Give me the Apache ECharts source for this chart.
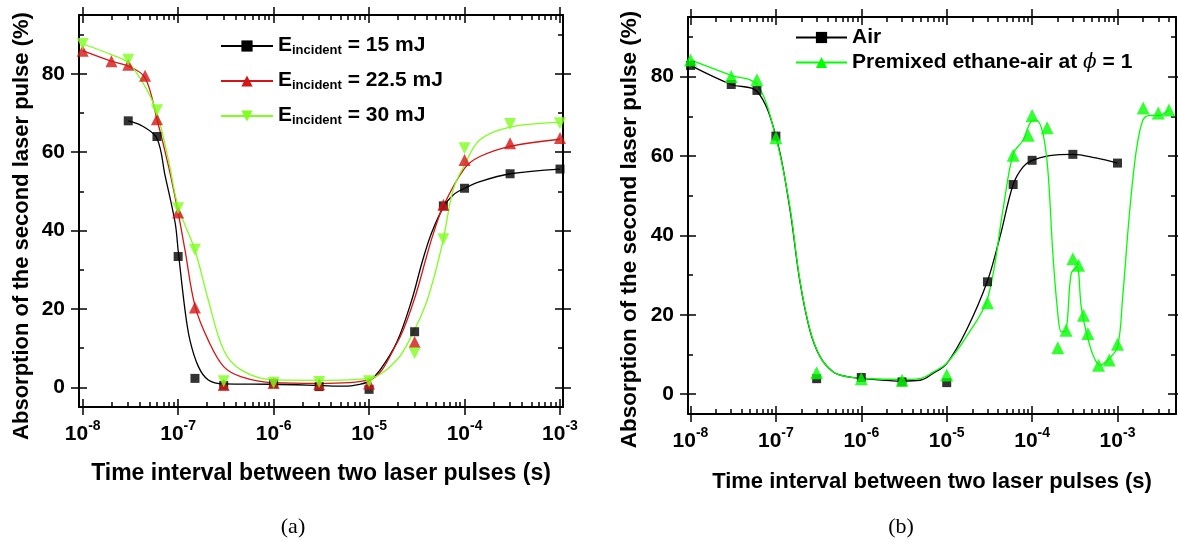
<!DOCTYPE html>
<html><head><meta charset="utf-8">
<script src="https://cdn.jsdelivr.net/npm/echarts@6/dist/echarts.min.js"></script>
<style>html,body{margin:0;padding:0;background:#fff}#c{width:1178px;height:542px}</style>
</head><body><div id="c"></div>
<script>
// ---------- Panel (a) markers ----------
const t15 = [3e-8, 6e-8, 1e-7, 1.5e-7, 3e-7, 1e-6, 3e-6, 1e-5, 3e-5, 6e-5, 1e-4, 3e-4, 1e-3];
const v15 = [68, 64, 33.4, 2.3, 0.5, 1.0, 0.2, -0.5, 14.2, 46.3, 50.8, 54.5, 55.7];
const t225 = [1e-8, 2e-8, 3e-8, 4.5e-8, 6e-8, 1e-7, 1.5e-7, 3e-7, 1e-6, 3e-6, 1e-5, 3e-5, 6e-5, 1e-4, 3e-4, 1e-3];
const v225 = [85.9, 83.2, 82.3, 79.5, 68.4, 44.6, 20.4, 0.6, 1.1, 0.8, 1.0, 11.6, 46.6, 58, 62.3, 63.6];
const t30 = [1e-8, 3e-8, 6e-8, 1e-7, 1.5e-7, 3e-7, 1e-6, 3e-6, 1e-5, 3e-5, 6e-5, 1e-4, 3e-4, 1e-3];
const v30 = [87.6, 83.6, 70.7, 45.7, 35.1, 1.6, 1.2, 1.4, 1.6, 8.7, 37.8, 61, 67.2, 67.4];
// ---------- Panel (a) fitted curves ----------
const c15T = [3e-8, 4.2e-8, 6e-8, 7.3e-8, 9.3e-8, 1e-7, 1.18e-7, 1.33e-7, 1.63e-7, 2.07e-7, 3e-7, 1e-6, 3e-6, 5.5e-6, 8e-6, 1e-5, 1.3e-5, 1.95e-5, 2.8e-5, 3.6e-5, 4.5e-5, 6e-5, 7.6e-5, 1e-4, 1.45e-4, 3e-4, 1e-3];
const c15V = [68, 66.7, 63.5, 54, 42, 35, 19.7, 12, 5.3, 1.9, 0.9, 0.8, 0.5, 0.3, 0.8, 1.6, 4.4, 11.5, 22.3, 32, 39.3, 46, 49.1, 50.8, 52.5, 54.5, 55.7];
const c225T = [1e-8, 2e-8, 3e-8, 4.5e-8, 6e-8, 8e-8, 1e-7, 1.18e-7, 1.5e-7, 2.07e-7, 3e-7, 4.6e-7, 1e-6, 3e-6, 1e-5, 1.95e-5, 2.96e-5, 4e-5, 4.72e-5, 6e-5, 1e-4, 1.45e-4, 3e-4, 1e-3];
const c225V = [85.9, 83.2, 82, 79, 68.4, 56, 44.6, 35, 20.8, 12, 5.3, 2.7, 1.2, 1.0, 1.9, 11.2, 22.3, 33.4, 39.3, 46.3, 55.9, 58.9, 61.5, 63.3];
const c30T = [1e-8, 2e-8, 3e-8, 4.5e-8, 6e-8, 8e-8, 1e-7, 1.5e-7, 2.07e-7, 3e-7, 4.6e-7, 1e-6, 3e-6, 1e-5, 1.95e-5, 2.9e-5, 3.9e-5, 4.9e-5, 6e-5, 7.6e-5, 1e-4, 1.45e-4, 3e-4, 1e-3];
const c30V = [87.6, 84.9, 82.8, 76.8, 70, 57.5, 46.1, 35, 22.3, 9.5, 4.4, 1.9, 1.8, 2.3, 7, 14, 21, 29, 37.8, 50.4, 56.8, 63.2, 66.4, 67.6];
// ---------- Panel (b) markers ----------
const tAir = [1e-8, 3e-8, 6e-8, 1e-7, 3e-7, 1e-6, 3e-6, 1e-5, 3e-5, 6e-5, 1e-4, 3e-4, 1e-3];
const vAir = [82.8, 78, 76.5, 65, 3.9, 4.2, 3.1, 2.9, 28.3, 52.8, 58.9, 60.4, 58.2];
const tEth = [1e-8, 3e-8, 6e-8, 1e-7, 3e-7, 1e-6, 3e-6, 1e-5, 3e-5, 6e-5, 9e-5, 1e-4, 1.5e-4, 2e-4, 2.5e-4, 3e-4, 3.5e-4, 4e-4, 4.5e-4, 6e-4, 8e-4, 1e-3, 2e-3, 3e-3, 4e-3];
const vEth = [84.2, 80, 79.2, 64.6, 5.4, 3.9, 3.5, 4.8, 23, 60.2, 65.2, 70.2, 67.1, 11.7, 16.1, 34.1, 32.5, 19.9, 15.3, 7.3, 8.6, 12.6, 72.1, 70.8, 71.6];
// ---------- Panel (b) fitted curves ----------
const cAirT = [1e-8, 3e-8, 6e-8, 1e-7, 1.45e-7, 1.9e-7, 2.5e-7, 3.3e-7, 4.7e-7, 6.8e-7, 1e-6, 3e-6, 4.9e-6, 6.9e-6, 1e-5, 1.7e-5, 3e-5, 4.2e-5, 6e-5, 7.8e-5, 1e-4, 1.6e-4, 3e-4, 5.6e-4, 1e-3];
const cAirV = [82.8, 78, 76.3, 65, 47, 28.7, 16.1, 9.4, 5.6, 4.4, 4.0, 3.3, 3.5, 5.2, 7.7, 16.1, 28.5, 39.6, 52.8, 57.2, 58.9, 60.1, 60.4, 59.5, 58.2];
const cEthT = [1e-8, 3e-8, 6e-8, 1e-7, 1.45e-7, 1.9e-7, 2.5e-7, 3.3e-7, 4.7e-7, 6.8e-7, 1e-6, 3e-6, 5e-6, 7e-6, 1e-5, 1.7e-5, 3e-5, 4.6e-5, 6e-5, 7.8e-5, 1e-4, 1.12e-4, 1.34e-4, 1.53e-4, 1.75e-4, 2e-4, 2.2e-4, 2.5e-4, 2.87e-4, 3.34e-4, 3.76e-4, 4.3e-4, 5.1e-4, 6.2e-4, 7.7e-4, 1e-3, 1.15e-3, 1.38e-3, 1.66e-3, 1.98e-3, 2.37e-3, 3e-3, 4e-3];
const cEthV = [84.2, 80.3, 78, 64.6, 47.5, 29, 16.3, 9.4, 5.6, 4.4, 4.0, 3.7, 4.0, 5.6, 7.8, 14.5, 24, 47, 60.5, 63.9, 68.9, 69, 65.6, 56.4, 35.4, 20.3, 15.7, 16.1, 30.4, 32, 22, 15.7, 10.2, 7.3, 8.6, 11.9, 24.5, 45.5, 61.4, 69, 70.2, 70.2, 71.6];
// ---------- ticks ----------
const decadeTicks = [1e-8, 1e-7, 1e-6, 1e-5, 1e-4, 1e-3];
const minorMult = [2, 3, 4, 5, 6, 7, 8, 9];
const minorDecadesA = [1e-8, 1e-7, 1e-6, 1e-5, 1e-4];
const minorDecadesB = [1e-8, 1e-7, 1e-6, 1e-5, 1e-4, 1e-3];
const yLabelTicks = [0, 20, 40, 60, 80];
const yMinorTicks = [10, 30, 50, 70, 90];

const legendA = ['E_incident = 15 mJ', 'E_incident = 22.5 mJ', 'E_incident = 30 mJ'];
const legendB = ['Air', 'Premixed ethane-air at \u03d5 = 1'];

function minorsFor(decs, maxV) {
  const out = [];
  decs.forEach(d => minorMult.forEach(m => { const v = m * d; if (v <= maxV) out.push(v); }));
  return out;
}
const zip = (a, b) => a.map((x, i) => [x, b[i]]);

const FONT = 'Liberation Sans';
const black = '#000';
const xLabelFmt = v => '{b|10}{s|' + Math.round(Math.log10(v)) + '}';
const xRich = {
  b: { fontSize: 21, fontWeight: 'bold', fontFamily: FONT, color: black, lineHeight: 26, verticalAlign: 'bottom' },
  s: { fontSize: 14, fontWeight: 'bold', fontFamily: FONT, color: black, lineHeight: 14, padding: [0, 0, 12, 0], verticalAlign: 'top' }
};
const tickLS = { color: black, width: 1.5 };

function xAxes(gi, min, max, minors, titleName, titleSize, titleGap) {
  const base = { type: 'log', logBase: 10, gridIndex: gi, min, max, splitLine: { show: false } };
  return [
    Object.assign({}, base, { position: 'bottom',
      name: titleName, nameLocation: 'middle', nameGap: titleGap,
      nameTextStyle: { fontSize: titleSize, fontWeight: 'bold', fontFamily: FONT, color: black },
      axisLine: { show: true, onZero: false, lineStyle: { color: black, width: 2 } },
      axisTick: { show: true, inside: true, length: 5, customValues: minors, lineStyle: tickLS },
      axisLabel: { show: true, customValues: decadeTicks, formatter: xLabelFmt, rich: xRich, margin: 12 } }),
    Object.assign({}, base, { position: 'bottom', offset: -8,
      axisLine: { show: false, onZero: false },
      axisTick: { show: true, inside: false, length: 16, customValues: decadeTicks, lineStyle: tickLS },
      axisLabel: { show: false } }),
    Object.assign({}, base, { position: 'top',
      axisLine: { show: true, onZero: false, lineStyle: { color: black, width: 2 } },
      axisTick: { show: true, inside: true, length: 5, customValues: minors, lineStyle: tickLS },
      axisLabel: { show: false } }),
    Object.assign({}, base, { position: 'top', offset: -8,
      axisLine: { show: false, onZero: false },
      axisTick: { show: true, inside: false, length: 16, customValues: decadeTicks, lineStyle: tickLS },
      axisLabel: { show: false } })
  ];
}
function yAxes(gi, nameGap, nameSize, shift) {
  const base = { type: 'value', gridIndex: gi, min: -5, max: 95, splitLine: { show: false } };
  return [
    Object.assign({}, base, { position: 'left',
      name: 'Absorption of the second laser pulse (%)', nameLocation: 'middle', nameGap: nameGap,
      nameTextStyle: { fontSize: nameSize, fontWeight: 'bold', fontFamily: FONT, color: black, padding: [0, shift, 0, 0] },
      axisLine: { show: true, onZero: false, lineStyle: { color: black, width: 2 } },
      axisTick: { show: true, inside: true, length: 5, customValues: yMinorTicks, lineStyle: tickLS },
      axisLabel: { show: true, customValues: yLabelTicks, fontSize: 21, fontWeight: 'bold', fontFamily: FONT, color: black, margin: 14 } }),
    Object.assign({}, base, { position: 'left', offset: -8,
      axisLine: { show: false, onZero: false },
      axisTick: { show: true, inside: false, length: 16, customValues: yLabelTicks, lineStyle: tickLS },
      axisLabel: { show: false } }),
    Object.assign({}, base, { position: 'right',
      axisLine: { show: true, onZero: false, lineStyle: { color: black, width: 2 } },
      axisTick: { show: true, inside: true, length: 5, customValues: yMinorTicks, lineStyle: tickLS },
      axisLabel: { show: false } }),
    Object.assign({}, base, { position: 'right', offset: -8,
      axisLine: { show: false, onZero: false },
      axisTick: { show: true, inside: false, length: 16, customValues: yLabelTicks, lineStyle: tickLS },
      axisLabel: { show: false } })
  ];
}

const minA = 9.15e-9, maxA = 1.075e-3;
const minB = 9.35e-9, maxB = 4.84e-3;
const xTitle = 'Time interval between two laser pulses (s)';

function curve(name, xi, data, color, symbol, rot, size) {
  return { type: 'line', name, xAxisIndex: xi, yAxisIndex: xi, data, smooth: 0.35,
    symbol, symbolRotate: rot, symbolSize: size, showSymbol: false,
    lineStyle: { color, width: 1.3 }, itemStyle: { color }, z: 2, silent: true, animation: false };
}
function marks(name, xi, data, color, symbol, rot, size) {
  return { type: 'scatter', name, xAxisIndex: xi, yAxisIndex: xi, data,
    symbol, symbolRotate: rot, symbolSize: size, itemStyle: { color }, z: 3, silent: true, animation: false };
}

const RED = '#d41515', LIME = '#7fff1e', GREEN = '#00ff00';
const legText = { fontSize: 21, fontWeight: 'bold', fontFamily: FONT, color: black };

const option = {
  animation: false,
  backgroundColor: '#fff',
  grid: [
    { left: 79, top: 15, width: 484, height: 392 },
    { left: 688, top: 17, width: 488, height: 397 }
  ],
  xAxis: [].concat(xAxes(0, minA, maxA, minorsFor(minorDecadesA, 1e-3), xTitle, 23, 55),
                   xAxes(1, minB, maxB, minorsFor(minorDecadesB, maxB), xTitle, 22, 57)),
  yAxis: [].concat(yAxes(0, 46, 22, 30), yAxes(1, 47, 22.5, 28)),
  legend: [
    { data: legendA, orient: 'vertical', left: 215, top: 24, itemWidth: 52, itemHeight: 14, itemGap: 7,
      formatter: n => '{e|E}{s|incident}{e| = ' + n.split('= ')[1] + '}',
      textStyle: { rich: {
        e: Object.assign({}, legText, { lineHeight: 22, verticalAlign: 'top' }),
        s: Object.assign({}, legText, { fontSize: 13, lineHeight: 13, padding: [15, 0, 0, 0], verticalAlign: 'bottom' }) } } },
    { data: legendB, orient: 'vertical', left: 790, top: 22, itemWidth: 51, itemHeight: 14, itemGap: 4,
      formatter: n => n === legendB[1] ? '{t|Premixed ethane-air at }{p|\u03d5}{t| = 1}' : '{t|' + n + '}',
      textStyle: { rich: {
        t: Object.assign({}, legText, { lineHeight: 24 }),
        p: Object.assign({}, legText, { fontStyle: 'italic', fontWeight: 'normal', fontFamily: 'DejaVu Serif', fontSize: 20, lineHeight: 24 }) } } }
  ],
  series: [
    curve(legendA[0], 0, zip(c15T, c15V), black, 'rect', 0, 9),
    curve(legendA[1], 0, zip(c225T, c225V), RED, 'triangle', 0, 12),
    curve(legendA[2], 0, zip(c30T, c30V), LIME, 'triangle', 180, 12),
    marks('15 mJ data', 0, zip(t15, v15), black, 'rect', 0, 9),
    marks('22.5 mJ data', 0, zip(t225, v225), RED, 'triangle', 0, 12),
    marks('30 mJ data', 0, zip(t30, v30), LIME, 'triangle', 180, 12),
    curve(legendB[0], 4, zip(cAirT, cAirV), black, 'rect', 0, 9),
    curve(legendB[1], 4, zip(cEthT, cEthV), GREEN, 'triangle', 0, 13),
    marks('Air data', 4, zip(tAir, vAir), black, 'rect', 0, 9),
    marks('Ethane data', 4, zip(tEth, vEth), GREEN, 'triangle', 0, 13)
  ],
  graphic: [
    { type: 'text', x: 293, y: 527, style: { text: '(a)', font: '22px "Liberation Serif"', fill: black, align: 'center', verticalAlign: 'middle', textAlign: 'center', textVerticalAlign: 'middle' } },
    { type: 'text', x: 901, y: 527, style: { text: '(b)', font: '22px "Liberation Serif"', fill: black, align: 'center', verticalAlign: 'middle', textAlign: 'center', textVerticalAlign: 'middle' } }
  ]
};
const chart = echarts.init(document.getElementById('c'));
chart.setOption(option);
</script></body></html>
